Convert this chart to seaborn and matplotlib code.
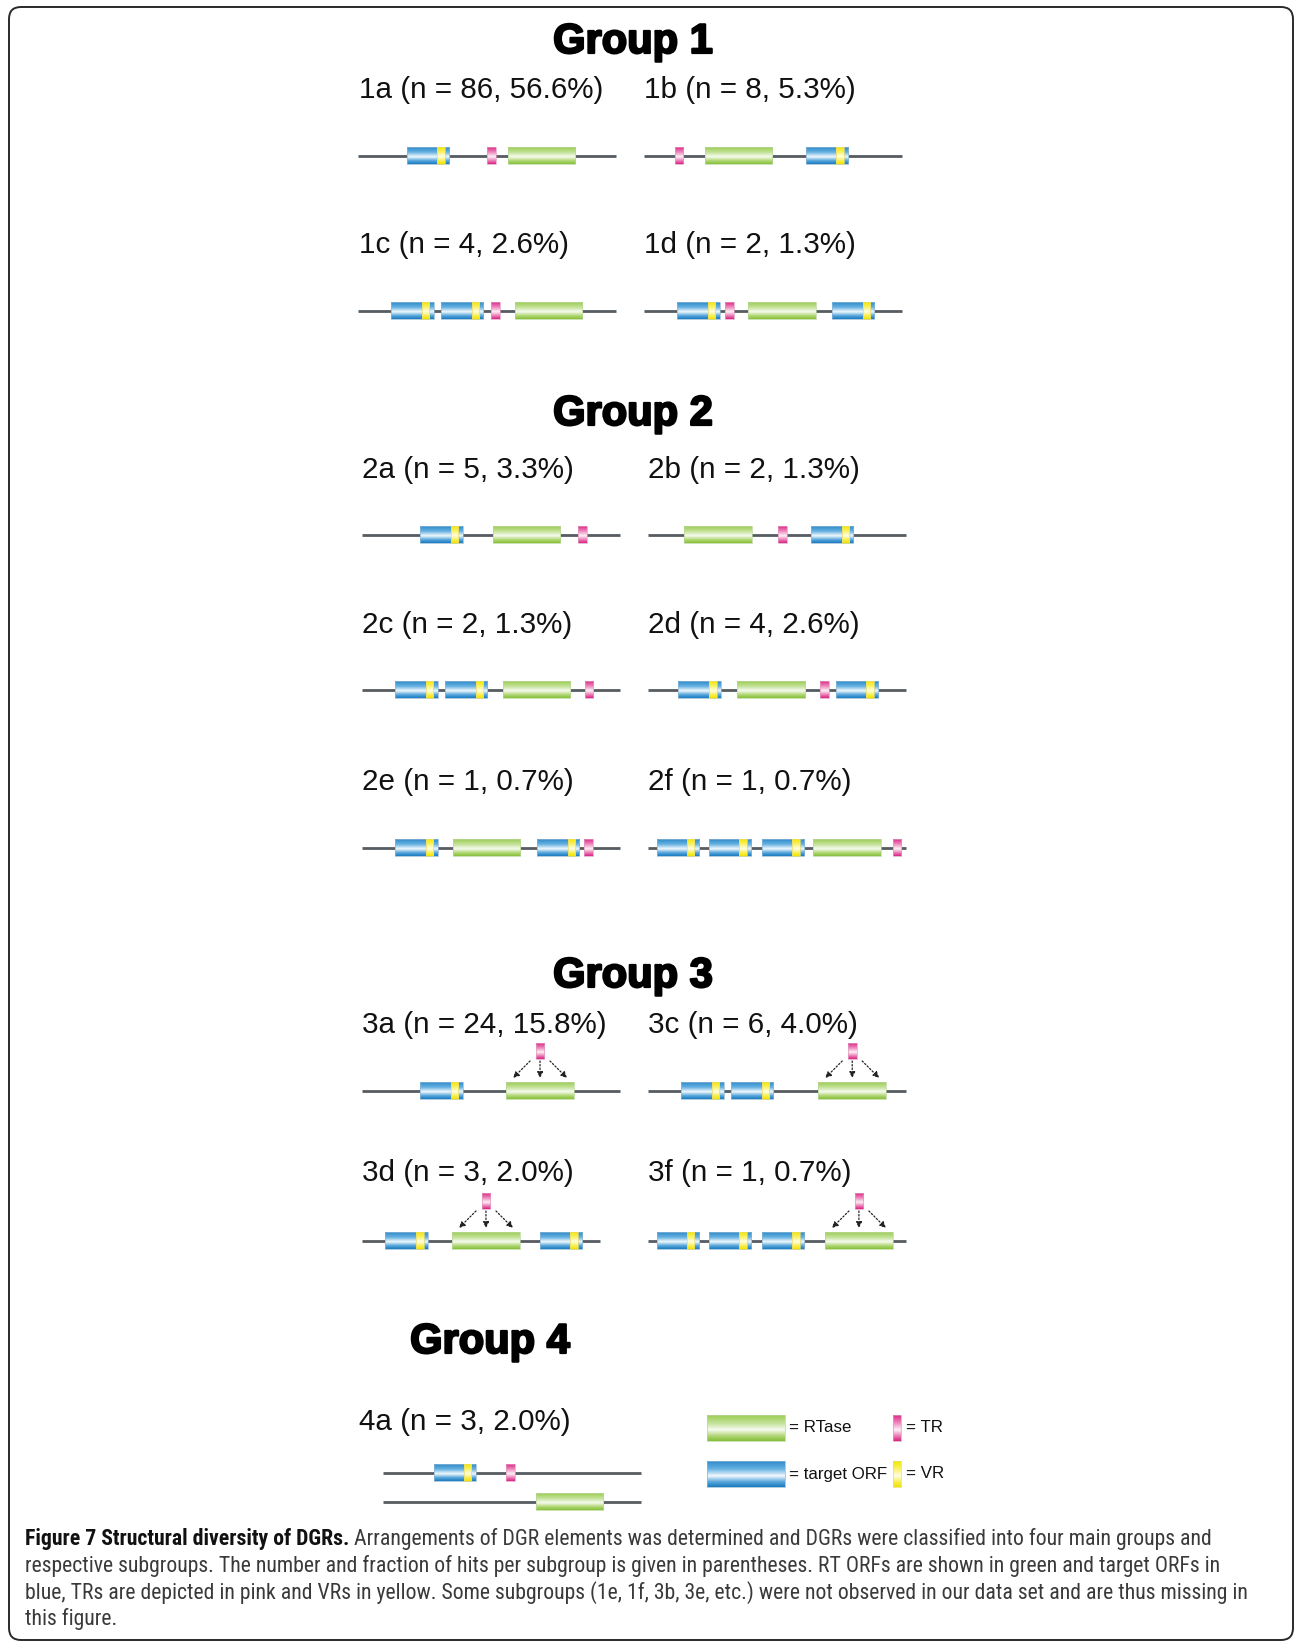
import numpy as np
import matplotlib
matplotlib.use("Agg")
import matplotlib.pyplot as plt
import matplotlib.patheffects as pe
import seaborn as sns
from matplotlib.colors import LinearSegmentedColormap
from matplotlib.patches import FancyBboxPatch, Rectangle
from matplotlib import font_manager as fm

# ---- data ----
group_names = ["Group 1", "Group 2", "Group 3", "Group 4"]
subgroups = ["1a", "1b", "1c", "1d", "2a", "2b", "2c", "2d", "2e", "2f",
             "3a", "3c", "3d", "3f", "4a"]
hit_counts = [86, 8, 4, 2, 5, 2, 2, 4, 1, 1, 24, 6, 3, 1, 3]
hit_percent = [56.6, 5.3, 2.6, 1.3, 3.3, 1.3, 1.3, 2.6, 0.7, 0.7, 15.8, 4.0, 2.0, 0.7, 2.0]

# element order along each locus, in % of locus length
# ("orf", start, end) target ORF (VR at its end), ("rt", start, end) RTase, ("tr", start) TR
# "rt2" = RTase on a second, separate locus (group 4)
layouts = {
    "1a": [("orf", 18.9, 35.3), ("tr", 49.9), ("rt", 58.1, 84.1)],
    "1b": [("tr", 11.9), ("rt", 23.5, 49.7), ("orf", 62.6, 79.1)],
    "1c": [("orf", 12.9, 29.3), ("orf", 32.1, 48.6), ("tr", 51.7), ("rt", 60.7, 87.0)],
    "1d": [("orf", 12.9, 29.4), ("tr", 31.5), ("rt", 40.5, 66.6), ("orf", 72.8, 89.3)],
    "2a": [("orf", 22.6, 39.0), ("rt", 50.7, 76.9), ("tr", 83.7)],
    "2b": [("rt", 13.9, 40.2), ("tr", 50.4), ("orf", 63.1, 79.6)],
    "2c": [("orf", 12.9, 29.3), ("orf", 32.3, 48.6), ("rt", 54.6, 80.7), ("tr", 86.3)],
    "2d": [("orf", 11.8, 28.3), ("rt", 34.4, 60.8), ("tr", 66.7), ("orf", 72.7, 89.2)],
    "2e": [("orf", 12.9, 29.3), ("rt", 35.3, 61.4), ("orf", 67.9, 84.3), ("tr", 86.1)],
    "2f": [("orf", 3.4, 19.7), ("orf", 23.7, 40.0), ("orf", 44.0, 60.5), ("rt", 64.1, 90.2), ("tr", 94.8)],
    "3a": [("orf", 22.6, 39.0), ("rt", 55.9, 82.1)],
    "3c": [("orf", 12.8, 29.3), ("orf", 32.1, 48.6), ("rt", 66.0, 92.3)],
    "3d": [("orf", 9.1, 25.7), ("rt", 35.0, 61.1), ("orf", 69.0, 85.4)],
    "3f": [("orf", 3.4, 19.7), ("orf", 23.7, 40.0), ("orf", 44.0, 60.5), ("rt", 68.7, 94.8)],
    "4a": [("orf", 19.7, 35.9), ("tr", 47.7), ("rt2", 59.3, 85.3)],
}
locus_length = {"3d": 92.4}           # all others span 100
tr_inside_rt = ["3a", "3c", "3d", "3f"]  # TR sits inside the RT gene

legend_items = [("rt", "= RTase"), ("orf", "= target ORF"), ("tr", "= TR"), ("vr", "= VR")]

caption_bold = "Figure 7 Structural diversity of DGRs."
caption_lines = [
    " Arrangements of DGR elements was determined and DGRs were classified into four main groups and",
    "respective subgroups. The number and fraction of hits per subgroup is given in parentheses. RT ORFs are shown in green and target ORFs in",
    "blue, TRs are depicted in pink and VRs in yellow. Some subgroups (1e, 1f, 3b, 3e, etc.) were not observed in our data set and are thus missing in",
    "this figure.",
]

# ---- layout (pixels) ----
W, H = 1295, 1642
title_pos = {"Group 1": (633, 42), "Group 2": (633, 414), "Group 3": (633, 976), "Group 4": (490, 1342)}
# label x, label y, locus start x, locus y
panel_pos = {
    "1a": (359, 90, 358, 156), "1b": (644, 90, 644, 156),
    "1c": (359, 245, 358, 311), "1d": (644, 245, 644, 311),
    "2a": (362, 470, 362, 535), "2b": (648, 470, 648, 535),
    "2c": (362, 625, 362, 690), "2d": (648, 625, 648, 690),
    "2e": (362, 782, 362, 848), "2f": (648, 782, 648, 848),
    "3a": (362, 1025, 362, 1091), "3c": (648, 1025, 648, 1091),
    "3d": (362, 1173, 362, 1241), "3f": (648, 1173, 648, 1241),
    "4a": (359, 1422, 383, 1473),
}
second_locus_gap = 29
px_per_unit = 2.58
box_h = 17
tr_w = 3.4
vr_w, vr_gap = 2.9, 1.7

# ---- style ----
sns.set_theme(style="white")
plt.rcParams["font.family"] = ["Liberation Sans", "DejaVu Sans"]


def pick_condensed():
    for fam in ["Liberation Sans Narrow", "Roboto Condensed", "Open Sans Condensed", "Noto Sans Condensed"]:
        try:
            fm.findfont(fm.FontProperties(family=fam), fallback_to_default=False)
            return dict(family=fam)
        except Exception:
            pass
    path = fm.findfont(fm.FontProperties(family="DejaVu Sans", stretch="condensed"))
    if "Condensed" in path:
        return dict(family="DejaVu Sans", stretch="condensed")
    return dict(family="Liberation Sans")


cond_font = pick_condensed()

cmaps = {
    "orf": LinearSegmentedColormap.from_list("orf", [(0, "#2f8bcb"), (0.3, "#66b1e1"), (0.57, "#f2f9fd"),
                                                     (0.8, "#5aa8dc"), (1, "#1c7bc0")]),
    "rt": LinearSegmentedColormap.from_list("rt", [(0, "#9ccd55"), (0.3, "#c2e196"), (0.57, "#f7fbf0"),
                                                   (0.8, "#b3d878"), (1, "#86bf3a")]),
    "tr": LinearSegmentedColormap.from_list("tr", [(0, "#df2a89"), (0.3, "#ee8abf"), (0.57, "#fdf0f6"),
                                                   (0.8, "#ec80b8"), (1, "#d92384")]),
    "vr": LinearSegmentedColormap.from_list("vr", [(0, "#f6e600"), (0.3, "#faf26a"), (0.57, "#fffde4"),
                                                   (0.8, "#f9ef55"), (1, "#f3e200")]),
}
edge_cols = {"orf": "#8fb6d2", "rt": "#b9d69a", "tr": "#e09cc0", "vr": "#e6dc70"}
line_col = "#565c61"

fig = plt.figure(figsize=(W / 100, H / 100), dpi=100)
ax = fig.add_axes([0, 0, 1, 1])
ax.set_xlim(0, W)
ax.set_ylim(H, 0)
ax.axis("off")


def gbox(kind, x0, x1, yc, h, z=3):
    grad = cmaps[kind](np.linspace(0, 1, 64)).reshape(64, 1, 4)
    ax.imshow(grad, extent=(x0, x1, yc + h / 2, yc - h / 2), aspect="auto",
              interpolation="bilinear", zorder=z)
    ax.add_patch(Rectangle((x0, yc - h / 2), x1 - x0, h, fill=False,
                           ec=edge_cols[kind], lw=0.5, zorder=z + 0.1))


def draw_element(el, x0, y):
    kind = el[0]
    if kind == "orf":
        a, b = x0 + el[1] * px_per_unit, x0 + el[2] * px_per_unit
        gbox("orf", a, b, y, box_h)
        vb = b - vr_gap * px_per_unit
        gbox("vr", vb - vr_w * px_per_unit, vb, y, box_h, z=4)
    elif kind in ("rt", "rt2"):
        a, b = x0 + el[1] * px_per_unit, x0 + el[2] * px_per_unit
        gbox("rt", a, b, y, box_h)
    elif kind == "tr":
        a = x0 + el[1] * px_per_unit
        gbox("tr", a, a + tr_w * px_per_unit, y, box_h)


# group titles
for g in group_names:
    x, y = title_pos[g]
    ax.text(x, y, g, fontsize=30, fontweight="bold", ha="center", va="center", color="black",
            path_effects=[pe.withStroke(linewidth=1.6, foreground="black")])

# subgroup panels
for name, n, pct in zip(subgroups, hit_counts, hit_percent):
    lx, ly, x0, y = panel_pos[name]
    ax.text(lx, ly, f"{name} (n = {n}, {pct:.1f}%)", fontsize=21.3, ha="left", va="center",
            color="#111111")
    length = locus_length.get(name, 100) * px_per_unit
    ax.plot([x0, x0 + length], [y, y], color=line_col, lw=2.0, solid_capstyle="butt", zorder=2)
    els = layouts[name]
    if any(e[0] == "rt2" for e in els):
        y2 = y + second_locus_gap
        ax.plot([x0, x0 + length], [y2, y2], color=line_col, lw=2.0, solid_capstyle="butt", zorder=2)
    for el in els:
        draw_element(el, x0, y2 if el[0] == "rt2" else y)
    if name in tr_inside_rt:
        rt = [e for e in els if e[0] == "rt"][0]
        cx = x0 + (rt[1] + rt[2]) / 2 * px_per_unit
        gbox("tr", cx - tr_w * px_per_unit / 2, cx + tr_w * px_per_unit / 2, y - 40, 16)
        for dx0, dx1 in [(-10, -27), (0, 0), (10, 27)]:
            ax.annotate("", xy=(cx + dx1, y - 13), xytext=(cx + dx0, y - 30),
                        arrowprops=dict(arrowstyle="-|>,head_length=0.5,head_width=0.25",
                                        linestyle=(0, (1.2, 1.6)), lw=0.9, color="#222222",
                                        shrinkA=0, shrinkB=0, mutation_scale=7), zorder=5)

# legend
leg_big = {"rt": (707, 1428), "orf": (707, 1474)}
leg_small = {"tr": (893, 1428), "vr": (893, 1474)}
for kind, text in legend_items:
    if kind in leg_big:
        x, y = leg_big[kind]
        gbox(kind, x, x + 78, y, 26)
        ax.text(x + 82, y, text, fontsize=12.2, ha="left", va="center", color="#111111")
    else:
        x, y = leg_small[kind]
        gbox(kind, x, x + 7.5, y, 26)
        ax.text(x + 13, y, text, fontsize=12.2, ha="left", va="center", color="#111111")

# frame
ax.add_patch(FancyBboxPatch((9, 7), 1284, 1633, boxstyle="round,pad=0,rounding_size=12",
                            fc="none", ec="#2a2a2a", lw=1.4, zorder=1))

# caption, size fitted so the long third line spans the text block
renderer = fig.canvas.get_renderer()
probe = ax.text(0, 0, caption_lines[2], fontsize=14, **cond_font)
pw = probe.get_window_extent(renderer).width
probe.remove()
cap_size = 14 * 1238 / pw
cap_x = 25
cap_y = [1539, 1566, 1593, 1619]
tb = ax.text(cap_x, cap_y[0], caption_bold, fontsize=cap_size, fontweight="bold", ha="left",
             va="center", color="#111111", **cond_font)
bb = tb.get_window_extent(renderer)
ax.text(bb.x1, cap_y[0], caption_lines[0], fontsize=cap_size, ha="left", va="center",
        color="#3a3a3a", **cond_font)
for line, yy in zip(caption_lines[1:], cap_y[1:]):
    ax.text(cap_x, yy, line, fontsize=cap_size, ha="left", va="center", color="#3a3a3a", **cond_font)

ax.set_xlim(0, W)
ax.set_ylim(H, 0)
fig.savefig("out.png", dpi=100, facecolor="white")
